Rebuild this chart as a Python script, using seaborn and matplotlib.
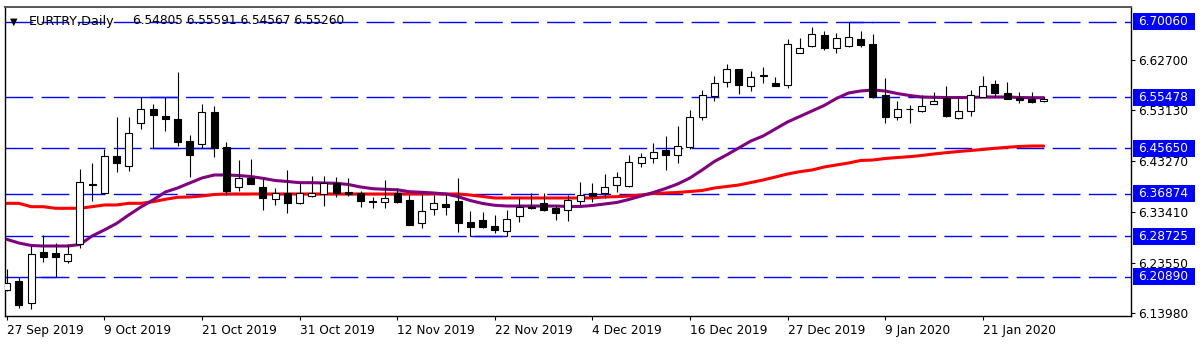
import numpy as np
import pandas as pd
import matplotlib
matplotlib.use("Agg")
import matplotlib.pyplot as plt
from matplotlib.patches import Rectangle
from matplotlib.transforms import blended_transform_factory
import seaborn as sns

# ---- chart data -------------------------------------------------------
symbol_title = "EURTRY,Daily"
last_ohlc = ["6.54805", "6.55591", "6.54567", "6.55260"]

first_day = "2019-09-27"
last_day = "2020-01-28"
holidays = ["2019-12-25", "2020-01-01"]

opens = [6.1836, 6.2015, 6.1591, 6.2563, 6.2543, 6.2401, 6.2717, 6.3866, 6.3712, 6.4419,
         6.4227, 6.5061, 6.5326, 6.5191, 6.5127, 6.4709, 6.4651, 6.5273, 6.4599, 6.3827,
         6.3989, 6.3827, 6.3585, 6.3712, 6.3507, 6.3648, 6.3687, 6.3893, 6.3731, 6.3700,
         6.3552, 6.3527, 6.3712, 6.3571, 6.3122, 6.3392, 6.3488, 6.3552, 6.3153, 6.3185,
         6.3070, 6.2979, 6.3263, 6.3442, 6.3507, 6.3411, 6.3378, 6.3558, 6.3700, 6.3700,
         6.3860, 6.3847, 6.4290, 6.4387, 6.4535, 6.4439, 6.4587, 6.5177, 6.5576, 6.5852,
         6.6091, 6.5769, 6.5971, 6.5833, 6.5788, 6.6411, 6.6540, 6.6752, 6.6507, 6.6540,
         6.6669, 6.6573, 6.5595, 6.5166, 6.5316, 6.5293, 6.5422, 6.5547, 6.5146, 6.5293,
         6.5563, 6.5808, 6.5628, 6.5543, 6.5513, 6.54805]
highs = [6.2241, 6.2092, 6.2684, 6.2896, 6.2748, 6.2723, 6.4163, 6.4279, 6.4549, 6.5166,
         6.5166, 6.5548, 6.5422, 6.5548, 6.6045, 6.4824, 6.5422, 6.5383, 6.4695, 6.4342,
         6.4362, 6.4001, 6.3797, 6.4149, 6.3893, 6.4034, 6.4034, 6.4009, 6.3989, 6.3750,
         6.3623, 6.3957, 6.3797, 6.3667, 6.3700, 6.3667, 6.3681, 6.3989, 6.3365, 6.3345,
         6.3282, 6.3378, 6.3623, 6.3712, 6.3712, 6.3475, 6.3667, 6.3924, 6.3893, 6.4072,
         6.4117, 6.4439, 6.4471, 6.4664, 6.4805, 6.4998, 6.5306, 6.5692, 6.5962, 6.6193,
         6.6106, 6.6064, 6.6141, 6.5948, 6.6669, 6.6689, 6.6901, 6.6835, 6.6785, 6.7006,
         6.6835, 6.6772, 6.5917, 6.5486, 6.5403, 6.5595, 6.5659, 6.5769, 6.5563, 6.5692,
         6.5962, 6.5885, 6.5852, 6.5659, 6.5659, 6.55591]
lows = [6.1817, 6.1489, 6.1470, 6.2381, 6.2089, 6.2351, 6.2640, 6.3558, 6.3696, 6.4117,
        6.4136, 6.4940, 6.4565, 6.4907, 6.4612, 6.4020, 6.4565, 6.4406, 6.3667, 6.3750,
        6.3875, 6.3378, 6.3475, 6.3326, 6.3498, 6.3623, 6.3455, 6.3635, 6.3648, 6.3430,
        6.3411, 6.3411, 6.3507, 6.3085, 6.3025, 6.3282, 6.3282, 6.2960, 6.2873, 6.3025,
        6.2929, 6.2873, 6.3153, 6.3392, 6.3365, 6.3185, 6.3166, 6.3475, 6.3538, 6.3604,
        6.3731, 6.3827, 6.4202, 6.4290, 6.4149, 6.4290, 6.4549, 6.5113, 6.5486, 6.5755,
        6.5615, 6.5678, 6.5833, 6.5763, 6.5725, 6.6405, 6.6515, 6.6463, 6.6411, 6.6527,
        6.6515, 6.5546, 6.5061, 6.5113, 6.5050, 6.5273, 6.5416, 6.5177, 6.5140, 6.5191,
        6.5551, 6.5563, 6.5509, 6.5447, 6.5447, 6.54567]
closes = [6.1971, 6.1547, 6.2530, 6.2466, 6.2466, 6.2530, 6.3912, 6.3885, 6.4419, 6.4290,
          6.4869, 6.5326, 6.5210, 6.5127, 6.4695, 6.4439, 6.5273, 6.4583, 6.3750, 6.4001,
          6.3880, 6.3615, 6.3712, 6.3507, 6.3712, 6.3712, 6.3893, 6.3712, 6.3687, 6.3558,
          6.3527, 6.3604, 6.3527, 6.3089, 6.3365, 6.3507, 6.3442, 6.3122, 6.3056, 6.3056,
          6.2993, 6.3205, 6.3442, 6.3411, 6.3378, 6.3326, 6.3571, 6.3667, 6.3648, 6.3827,
          6.4020, 6.4309, 6.4394, 6.4491, 6.4439, 6.4618, 6.5177, 6.5595, 6.5821, 6.6091,
          6.5788, 6.5948, 6.5981, 6.5769, 6.6573, 6.6496, 6.6772, 6.6496, 6.6689, 6.6719,
          6.6559, 6.5550, 6.5177, 6.5326, 6.5326, 6.5383, 6.5486, 6.5200, 6.5293, 6.5595,
          6.5769, 6.5628, 6.5513, 6.5499, 6.5466, 6.55260]

# moving averages (fast = purple, slow = red)
ma_fast = [6.2813, 6.2742, 6.2694, 6.2684, 6.2684, 6.2684, 6.2713, 6.2877, 6.2993, 6.3118,
           6.3282, 6.3436, 6.3571, 6.3725, 6.3802, 6.3899, 6.3995, 6.4053, 6.4053, 6.4043,
           6.4024, 6.3989, 6.3947, 6.3928, 6.3905, 6.3905, 6.3899, 6.3893, 6.3870, 6.3822,
           6.3789, 6.3777, 6.3768, 6.3731, 6.3720, 6.3706, 6.3687, 6.3635, 6.3561, 6.3504,
           6.3469, 6.3455, 6.3455, 6.3455, 6.3455, 6.3455, 6.3446, 6.3446, 6.3465, 6.3494,
           6.3523, 6.3581, 6.3648, 6.3716, 6.3793, 6.3880, 6.3995, 6.4149, 6.4313, 6.4439,
           6.4574, 6.4709, 6.4805, 6.4940, 6.5075, 6.5181, 6.5287, 6.5393, 6.5528, 6.5634,
           6.5673, 6.5692, 6.5673, 6.5624, 6.5586, 6.5557, 6.5551, 6.5547, 6.5547, 6.5547,
           6.5557, 6.5557, 6.5557, 6.5547, 6.5543, 6.5543]
ma_slow = [6.3507, 6.3507, 6.3442, 6.3442, 6.3411, 6.3411, 6.3411, 6.3442, 6.3475, 6.3475,
           6.3507, 6.3507, 6.3538, 6.3585, 6.3623, 6.3629, 6.3648, 6.3677, 6.3687, 6.3687,
           6.3687, 6.3687, 6.3687, 6.3687, 6.3687, 6.3687, 6.3687, 6.3687, 6.3687, 6.3687,
           6.3687, 6.3687, 6.3687, 6.3687, 6.3687, 6.3687, 6.3687, 6.3687, 6.3667, 6.3639,
           6.3610, 6.3610, 6.3610, 6.3610, 6.3610, 6.3610, 6.3610, 6.3610, 6.3610, 6.3629,
           6.3635, 6.3648, 6.3667, 6.3696, 6.3706, 6.3716, 6.3735, 6.3754, 6.3802, 6.3831,
           6.3860, 6.3908, 6.3957, 6.4014, 6.4072, 6.4117, 6.4149, 6.4207, 6.4246, 6.4284,
           6.4333, 6.4342, 6.4371, 6.4390, 6.4406, 6.4429, 6.4458, 6.4483, 6.4506, 6.4525,
           6.4545, 6.4568, 6.4587, 6.4603, 6.4612, 6.4612]

levels = [6.70060, 6.55478, 6.45650, 6.36874, 6.28725, 6.20890]
level_labels = ["6.70060", "6.55478", "6.45650", "6.36874", "6.28725", "6.20890"]
# solid stretches of the level lines: (level, first bar, last bar)
level_spans = [(6.70060, 69, 71), (6.55478, 11, 14), (6.45650, 12, 17),
               (6.28725, 38, 41), (6.20890, 2, 4)]

price_ticks = [6.62700, 6.53130, 6.43270, 6.33410, 6.23550, 6.13980]
price_tick_labels = ["6.62700", "6.53130", "6.43270", "6.33410", "6.23550", "6.13980"]
date_tick_labels = ["27 Sep 2019", "9 Oct 2019", "21 Oct 2019", "31 Oct 2019",
                    "12 Nov 2019", "22 Nov 2019", "4 Dec 2019", "16 Dec 2019",
                    "27 Dec 2019", "9 Jan 2020", "21 Jan 2020"]
price_range = (6.13345, 6.7292)

# ---- style --------------------------------------------------------------
sns.set_theme(style="white")
plt.rcParams["font.family"] = ["DejaVu Sans"]
FS = 8.7
BLUE = "#0000ff"

W, H = 1200, 347
fig = plt.figure(figsize=(W / 100, H / 100), dpi=100)
ax = fig.add_axes([5 / W, 31 / H, 1125.7 / W, 309 / H])
ax.set_facecolor("white")

# trading days (one bar per day)
days = pd.bdate_range(first_day, last_day)
days = days[~days.isin(pd.to_datetime(holidays))]
n = len(days)
x = np.arange(n)

# horizontal levels
for lv in levels:
    ax.axhline(lv, color=BLUE, lw=1.0, dashes=(20, 6), zorder=1)
for lv, a, b in level_spans:
    ax.hlines(lv, a, b, color=BLUE, lw=1.0, zorder=1)

# moving averages
ma = pd.DataFrame({
    "bar": np.r_[x, x],
    "value": np.r_[ma_slow, ma_fast],
    "line": ["slow"] * n + ["fast"] * n,
})
sns.lineplot(data=ma, x="bar", y="value", hue="line",
             palette={"slow": "#ff0000", "fast": "#800080"},
             lw=2.2, legend=False, ax=ax, zorder=2)

# candles
o, h, l, c = (np.asarray(v) for v in (opens, highs, lows, closes))
up = c >= o
ax.vlines(x, l, h, color="black", lw=0.8, zorder=3)
ax.bar(x[up], (c - o)[up], bottom=o[up], width=0.58, color="white",
       edgecolor="black", lw=0.8, zorder=4)
ax.bar(x[~up], (o - c)[~up], bottom=c[~up], width=0.58, color="black",
       edgecolor="black", lw=0.8, zorder=4)

# axes
ax.set_xlim(-0.14, 92.13)
ax.set_ylim(*price_range)
ax.set_xlabel("")
ax.set_ylabel("")
ax.yaxis.tick_right()
ax.set_yticks(price_ticks, price_tick_labels)
ax.tick_params(axis="y", which="both", direction="out", length=3, width=0.8,
               pad=2, labelsize=FS, colors="black", right=True, left=False,
               labelright=True, labelleft=False)
tick_days = pd.to_datetime(date_tick_labels, format="%d %b %Y")
tick_pos = [int(np.where(days == d)[0][0]) for d in tick_days]
ax.set_xticks(tick_pos, date_tick_labels)
for t in ax.get_xticklabels():
    t.set_ha("left")
ax.tick_params(axis="x", direction="out", length=3, width=0.8, pad=3,
               labelsize=FS, colors="black", bottom=True)
for sp in ax.spines.values():
    sp.set_visible(True)
    sp.set_color("black")
    sp.set_linewidth(1.0)
ax.spines["top"].set_color("#555555")
ax.spines["top"].set_linewidth(1.4)

# level price boxes on the right scale
trans = blended_transform_factory(ax.transAxes, ax.transData)
data_per_px = (price_range[1] - price_range[0]) / 309
box_x0 = 1127.7 / 1125.7
box_w = 62.3 / 1125.7
for lv, lab in zip(levels, level_labels):
    ax.add_patch(Rectangle((box_x0, lv - 8.5 * data_per_px), box_w, 17 * data_per_px,
                           transform=trans, facecolor=BLUE, edgecolor="none",
                           clip_on=False, zorder=6))
    ax.text(1133 / 1125.7, lv, lab, transform=trans, color="white", fontsize=FS,
            va="center", ha="left", clip_on=False, zorder=7)

# header line
fig.text(10 / W, 1 - 21.5 / H, "\u25bc", fontsize=7, va="center", ha="left", color="black")
fig.text(29 / W, 1 - 21 / H, symbol_title, fontsize=9.2, va="center", ha="left", color="black")
fig.text(133 / W, 1 - 21 / H, " ".join(last_ohlc), fontsize=FS, va="center", ha="left",
         color="black")

fig.savefig("out.png", dpi=100, facecolor="white")
